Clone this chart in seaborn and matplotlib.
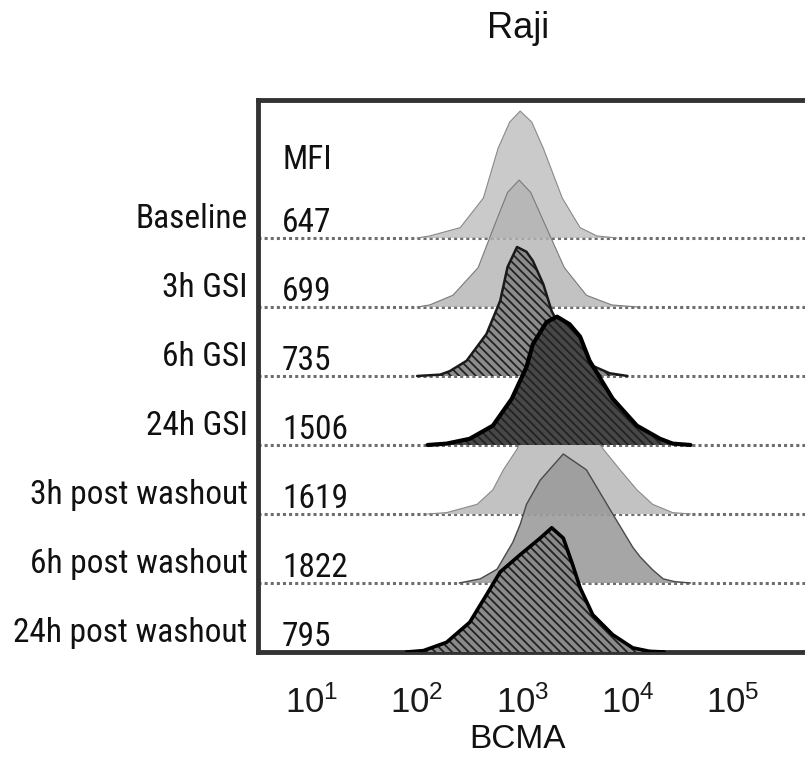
import numpy as np
import pandas as pd
import matplotlib
matplotlib.use("Agg")
import matplotlib.pyplot as plt
from matplotlib import font_manager
from matplotlib.ticker import LogLocator, NullFormatter, FixedLocator
import seaborn as sns

# ---------------- data ----------------
samples = ["Baseline", "3h GSI", "6h GSI", "24h GSI",
           "3h post washout", "6h post washout", "24h post washout"]
mfi = ["647", "699", "735", "1506", "1619", "1822", "795"]
row_pos = [6, 5, 4, 3, 2, 1, 0]

# histogram outlines: log10(BCMA) positions and normalised heights (row units)
baseline_log = [2.0, 2.12, 2.41, 2.63, 2.77, 2.88, 2.98, 3.09, 3.20, 3.38, 3.55, 3.71, 3.9]
baseline_h   = [0.0, 0.03, 0.15, 0.58, 1.30, 1.68, 1.84, 1.68, 1.30, 0.58, 0.15, 0.03, 0.0]

gsi3_log = [2.0, 2.12, 2.34, 2.58, 2.74, 2.86, 2.97, 3.08, 3.20, 3.40, 3.61, 3.85, 4.1]
gsi3_h   = [0.0, 0.03, 0.17, 0.57, 1.20, 1.66, 1.84, 1.66, 1.25, 0.57, 0.17, 0.03, 0.0]

gsi6_log = [2.0, 2.22, 2.31, 2.47, 2.66, 2.79, 2.86, 2.95, 3.04, 3.10, 3.20, 3.28, 3.43, 3.62, 3.83, 4.0]
gsi6_h   = [0.0, 0.02, 0.07, 0.22, 0.61, 1.09, 1.58, 1.87, 1.80, 1.67, 1.33, 0.94, 0.50, 0.18, 0.04, 0.0]

gsi24_log = [2.1, 2.28, 2.50, 2.72, 2.90, 3.04, 3.10, 3.23, 3.33, 3.45, 3.55, 3.64, 3.86, 4.09, 4.31, 4.43, 4.6]
gsi24_h   = [0.0, 0.02, 0.09, 0.28, 0.67, 1.13, 1.46, 1.78, 1.86, 1.75, 1.57, 1.22, 0.67, 0.28, 0.09, 0.02, 0.0]

wash3_log = [2.1, 2.28, 2.57, 2.72, 2.82, 2.95, 3.10, 3.30, 3.50, 3.77, 3.93, 4.09, 4.24, 4.43, 4.6]
wash3_h   = [0.0, 0.02, 0.14, 0.35, 0.64, 0.94, 1.45, 1.86, 1.50, 0.94, 0.64, 0.35, 0.14, 0.02, 0.0]

wash6_log = [2.4, 2.60, 2.76, 2.91, 2.98, 3.04, 3.17, 3.39, 3.61, 3.86, 4.05, 4.12, 4.24, 4.34, 4.45, 4.6]
wash6_h   = [0.0, 0.06, 0.20, 0.59, 0.85, 1.14, 1.49, 1.87, 1.64, 1.00, 0.52, 0.38, 0.19, 0.06, 0.02, 0.0]

wash24_log = [1.9, 2.06, 2.28, 2.50, 2.66, 2.79, 2.98, 3.17, 3.28, 3.39, 3.48, 3.55, 3.67, 3.86, 4.05, 4.21, 4.35]
wash24_h   = [0.0, 0.02, 0.14, 0.43, 0.83, 1.16, 1.41, 1.65, 1.80, 1.65, 1.26, 0.93, 0.54, 0.25, 0.06, 0.01, 0.0]

curve_logs = [baseline_log, gsi3_log, gsi6_log, gsi24_log, wash3_log, wash6_log, wash24_log]
curve_hs = [baseline_h, gsi3_h, gsi6_h, gsi24_h, wash3_h, wash6_h, wash24_h]

tick_exps = [1, 2, 3, 4, 5]

# ---------------- styling ----------------
styles = {
    "Baseline":         dict(face="#bdbdbd", alpha=0.8, hatch=None, edge="#8a8a8a", lw=0.8, z=2),
    "3h GSI":           dict(face="#b3b3b3", alpha=0.8, hatch=None, edge="#7a7a7a", lw=0.8, z=3),
    "6h GSI":           dict(face="#8c8c8c", alpha=1.0, hatch="\\\\\\\\", edge="#1a1a1a", lw=1.8, z=4),
    "24h GSI":          dict(face="#474747", alpha=1.0, hatch="\\\\\\\\", edge="#000000", lw=3.0, z=5),
    "3h post washout":  dict(face="#c2c2c2", alpha=1.0, hatch=None, edge="#8a8a8a", lw=0.8, z=1),
    "6h post washout":  dict(face="#9c9c9c", alpha=0.9, hatch=None, edge="#4a4a4a", lw=1.0, z=6),
    "24h post washout": dict(face="#8a8a8a", alpha=1.0, hatch="\\\\\\\\", edge="#000000", lw=2.6, z=7),
}

sns.set_style("white")

# pick a narrow face for the row labels if one is installed
names = {f.name for f in font_manager.fontManager.ttflist}
label_family = "Liberation Sans"
label_size = 21
for cand in ["Liberation Sans Narrow", "Arial Narrow", "Roboto Condensed", "Open Sans Condensed"]:
    if cand in names:
        label_family = cand
        label_size = 24
        break

plt.rcParams["font.family"] = ["Liberation Sans", "DejaVu Sans"]
plt.rcParams["mathtext.fontset"] = "custom"
plt.rcParams["mathtext.rm"] = "Liberation Sans"
plt.rcParams["hatch.linewidth"] = 1.3
plt.rcParams["hatch.color"] = "#111111"

fig = plt.figure(figsize=(8.05, 7.59), dpi=100)
ax = fig.add_axes([258 / 805, 1 - 652 / 759, (822 - 258) / 805, (652 - 100) / 759])

frames = []
for name, r, lg, hh in zip(samples, row_pos, curve_logs, curve_hs):
    frames.append(pd.DataFrame({"sample": name,
                                "bcma": np.power(10.0, np.array(lg)),
                                "y": r + np.array(hh)}))
df = pd.concat(frames, ignore_index=True)

# dotted row baselines
for r in row_pos:
    ax.axhline(r, color="#6e6e6e", lw=2.2, ls=(0, (1, 1)), zorder=0.5)

for name, r in zip(samples, row_pos):
    st = styles[name]
    sub = df[df["sample"] == name]
    ax.fill_between(sub["bcma"], r, sub["y"], facecolor=st["face"], alpha=st["alpha"],
                    hatch=st["hatch"], edgecolor="#222222" if st["hatch"] else "none",
                    linewidth=0, zorder=st["z"])
    sns.lineplot(data=sub, x="bcma", y="y", color=st["edge"], lw=st["lw"],
                 sort=False, estimator=None, legend=False, ax=ax, zorder=st["z"] + 0.1)

ax.set_xscale("log")
ax.set_xlim(10 ** 0.487, 10 ** 5.85)
ax.set_ylim(0, 8)
ax.set_xlabel("")
ax.set_ylabel("")
ax.set_yticks([])

ax.xaxis.set_major_locator(FixedLocator([10.0 ** e for e in tick_exps]))
ax.set_xticklabels([r"$\mathregular{10^{%d}}$" % e for e in tick_exps], fontsize=25,
                   family="Liberation Sans", color="#1a1a1a")
ax.xaxis.set_minor_locator(LogLocator(base=10, subs=np.arange(2, 10), numticks=100))
ax.xaxis.set_minor_formatter(NullFormatter())
ax.tick_params(axis="x", which="major", direction="out", length=9, width=3.5,
               color="#222222", pad=15)
ax.tick_params(axis="x", which="minor", direction="out", length=5, width=2,
               color="#444444")

for side in ["top", "left", "bottom", "right"]:
    ax.spines[side].set_linewidth(3.5)
    ax.spines[side].set_color("#333333")

# row labels and MFI values
for name, r, m in zip(samples, row_pos, mfi):
    ax.text(-0.018, r + 0.14, name, transform=ax.get_yaxis_transform(),
            ha="right", va="baseline", fontsize=label_size, family=label_family,
            color="#111111")
    ax.text(0.0426, r + 0.08, m, transform=ax.get_yaxis_transform(),
            ha="left", va="baseline", fontsize=label_size, family=label_family,
            color="#111111", zorder=10)
ax.text(0.0426, 7.0, "MFI", transform=ax.get_yaxis_transform(),
        ha="left", va="baseline", fontsize=label_size, family=label_family,
        color="#111111", zorder=10)

fig.text(518 / 805, 1 - 38 / 759, "Raji", ha="center", va="baseline",
         fontsize=26, family="Liberation Sans", color="#111111")
fig.text(518 / 805, 1 - 748 / 759, "BCMA", ha="center", va="baseline",
         fontsize=24, family="Liberation Sans", color="#111111")

fig.savefig("out.png", dpi=100)
